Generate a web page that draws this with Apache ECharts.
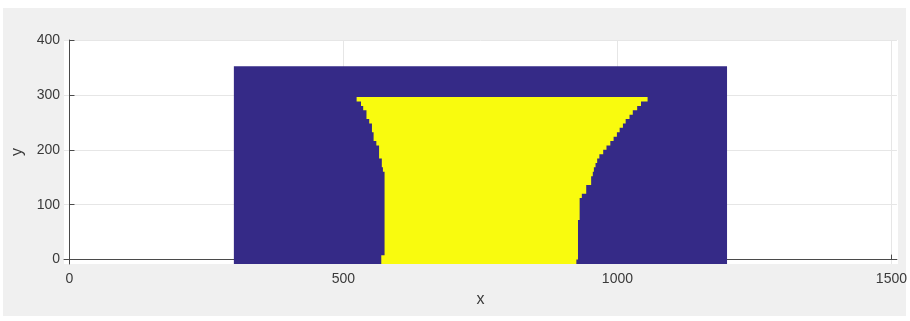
<!DOCTYPE html>
<html>
<head>
<meta charset="utf-8">
<script src="https://cdn.jsdelivr.net/npm/echarts@6/dist/echarts.min.js"></script>
<style>
html,body{margin:0;padding:0;background:#ffffff;}
#c{width:910px;height:321px;}
</style>
</head>
<body>
<div id="c"></div>
<script>
// Axis ticks
const xTicks = [0, 500, 1000, 1500];
const yTicks = [0, 100, 200, 300, 400];

// Blue (background) region: [xStart, xEnd, yStart, yEnd]
const blueRect = [[300, 1200, -8, 352]];

// Yellow region, row by row (row height 8)
const rowBottom = [-8, 0, 8, 16, 24, 32, 40, 48, 56, 64, 72, 80, 88, 96, 104, 112, 120, 128, 136, 144,
  152, 160, 168, 176, 184, 192, 200, 208, 216, 224, 232, 240, 248, 256, 264, 272, 280, 288];
const leftX = [569, 569, 575, 575, 575, 575, 575, 575, 575, 575, 575, 575, 575, 575, 575, 575, 575, 575, 575, 575,
  575, 572, 570, 570, 565, 565, 565, 560, 555, 555, 552, 552, 547, 542, 542, 536, 532, 524];
const rightX = [925, 928, 928, 928, 928, 928, 928, 928, 928, 928, 931, 931, 931, 931, 931, 935, 943, 943, 952, 952,
  955, 957, 960, 963, 967, 974, 980, 987, 993, 999, 1004, 1010, 1015, 1022, 1028, 1036, 1043, 1055];
const rowHeight = 8;

const yellowData = rowBottom.map((b, i) => [leftX[i], rightX[i], b, b + rowHeight]);

function renderBlue(params, api) {
  const p0 = api.coord([api.value(0), api.value(2)]);
  const p1 = api.coord([api.value(1), api.value(3)]);
  return {
    type: 'rect',
    shape: {
      x: Math.min(p0[0], p1[0]),
      y: Math.min(p0[1], p1[1]),
      width: Math.abs(p1[0] - p0[0]),
      height: Math.abs(p1[1] - p0[1])
    },
    style: { fill: '#352a87' }
  };
}

// Yellow region drawn as one staircase polygon built from all rows
function renderYellow(params, api) {
  if (params.dataIndex !== 0) return null;
  const pts = [];
  for (let i = 0; i < yellowData.length; i++) {
    const d = yellowData[i];
    pts.push(api.coord([d[0], d[2]]));
    pts.push(api.coord([d[0], d[3]]));
  }
  for (let i = yellowData.length - 1; i >= 0; i--) {
    const d = yellowData[i];
    pts.push(api.coord([d[1], d[3]]));
    pts.push(api.coord([d[1], d[2]]));
  }
  return {
    type: 'polygon',
    shape: { points: pts },
    style: { fill: '#f9fb0e' }
  };
}

const textColor = '#3a3a3a';
const axisColor = '#4a4a4a';
const gridColor = '#e6e6e6';
const fmt = v => String(v);
const font = 'Liberation Sans, Arial';

const chart = echarts.init(document.getElementById('c'), null, { renderer: 'canvas' });
chart.setOption({
  animation: false,
  backgroundColor: '#ffffff',
  graphic: [
    { type: 'rect', z: -10, shape: { x: 3, y: 8, width: 903, height: 308 }, style: { fill: '#f0f0f0' } },
    { type: 'rect', z: -9, shape: { x: 64, y: 40, width: 834, height: 224 }, style: { fill: '#ffffff' } }
  ],
  grid: { left: 64, top: 40, right: 12, bottom: 57, show: false },
  xAxis: {
    type: 'value', min: -10, max: 1510,
    name: 'x', nameLocation: 'middle', nameGap: 28,
    nameTextStyle: { color: textColor, fontSize: 16, fontFamily: font },
    axisLine: { show: true, lineStyle: { color: axisColor, width: 1 } },
    axisTick: { show: true, inside: true, length: 5, customValues: xTicks, lineStyle: { color: axisColor } },
    axisLabel: { customValues: xTicks, formatter: fmt, color: textColor, fontSize: 14, margin: 8, fontFamily: font },
    splitLine: { show: true, lineStyle: { color: gridColor, width: 1 } }
  },
  yAxis: {
    type: 'value', min: -8, max: 400,
    name: 'y', nameLocation: 'middle', nameGap: 38, nameRotate: 90,
    nameTextStyle: { color: textColor, fontSize: 16, fontFamily: font },
    axisLine: { show: true, lineStyle: { color: axisColor, width: 1 } },
    axisTick: { show: true, inside: true, length: 5, customValues: yTicks, lineStyle: { color: axisColor } },
    axisLabel: { customValues: yTicks, formatter: fmt, color: textColor, fontSize: 14, margin: 4, fontFamily: font },
    splitLine: { show: true, lineStyle: { color: gridColor, width: 1 } }
  },
  series: [
    { type: 'custom', renderItem: renderBlue, data: blueRect, clip: true, z: 2 },
    { type: 'custom', renderItem: renderYellow, data: yellowData, clip: true, z: 3 }
  ]
});
</script>
</body>
</html>
